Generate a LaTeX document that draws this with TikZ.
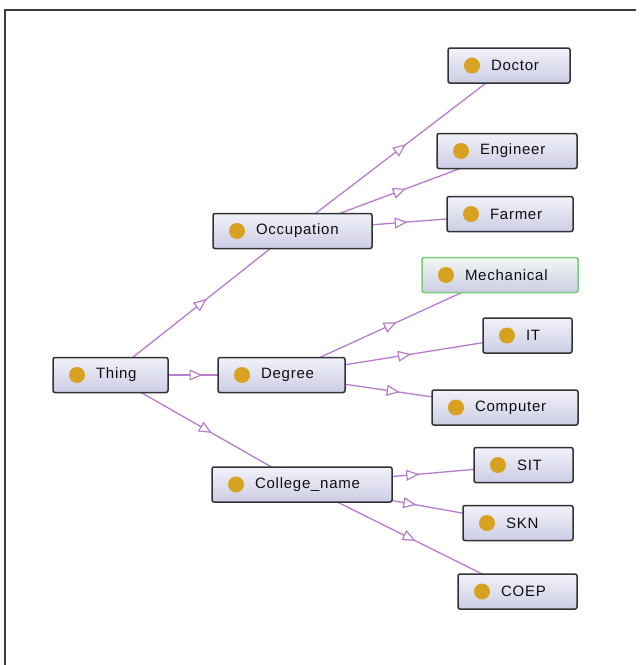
\documentclass[tikz,border=0pt]{standalone}
\usepackage{fontspec}
\newfontfamily\clsfont[LetterSpace=5]{Liberation Sans}
\usetikzlibrary{arrows.meta,decorations.markings,backgrounds}
\definecolor{boxline}{RGB}{50,50,54}
\definecolor{boxtop}{RGB}{242,242,250}
\definecolor{boxbot}{RGB}{204,205,228}
\definecolor{dotc}{RGB}{214,162,32}
\definecolor{edgec}{RGB}{184,124,204}
\definecolor{selline}{RGB}{122,204,122}
\definecolor{seltop}{RGB}{240,248,240}
\definecolor{txtc}{RGB}{15,15,20}
\definecolor{framec}{RGB}{60,60,60}
\tikzset{
  cls/.style={draw=boxline, line width=1.5pt, rounded corners=2pt,
    top color=boxtop, bottom color=boxbot, minimum height=35pt,
    inner xsep=0pt, inner ysep=0pt, align=left, text=txtc,
    font=\clsfont\fontsize{15}{18}\selectfont,
    path picture={\fill[dotc] ([xshift=24pt]path picture bounding box.west) circle (8pt);}},
  selcls/.style={cls, draw=selline, top color=seltop},
  isa/.style={draw=edgec, line width=1.3pt,
    decoration={markings, mark=at position 0.5 with {\arrow[xshift=6.5pt]{Triangle[length=13pt,width=11pt,fill=white,line width=1.2pt]}}},
    postaction={decorate}},
  frameline/.style={draw=framec, line width=1.6pt}
}
\begin{document}
\begin{tikzpicture}[x=1pt,y=-1pt]
\useasboundingbox (0,0) rectangle (640,665);
\coordinate (fa) at (5,10);
\coordinate (fb) at (636,10);
\coordinate (fc) at (5,665);
\draw[frameline] (fb) -- (fa) -- (fc);

\node[cls, text width=115pt] (thing) at (110.5,375) {\hspace*{43pt}Thing};
\node[cls, text width=127pt] (degree) at (281.5,375) {\hspace*{43pt}Degree};
\node[cls, text width=159pt] (occ) at (292.5,231) {\hspace*{43pt}Occupation};
\node[cls, text width=180pt] (coll) at (302,484.5) {\hspace*{43pt}College\_name};
\node[cls, text width=122pt] (doctor) at (509,65.5) {\hspace*{43pt}Doctor};
\node[cls, text width=140pt] (eng) at (507,151) {\hspace*{43pt}Engineer};
\node[cls, text width=126pt] (farmer) at (510,214) {\hspace*{43pt}Farmer};
\node[selcls, text width=156pt] (mech) at (500,275) {\hspace*{43pt}Mechanical};
\node[cls, text width=89pt] (it) at (527.5,335.5) {\hspace*{43pt}IT};
\node[cls, text width=146pt] (comp) at (505,407.5) {\hspace*{43pt}Computer};
\node[cls, text width=99pt] (sit) at (523.5,465) {\hspace*{43pt}SIT};
\node[cls, text width=110pt] (skn) at (518,523) {\hspace*{43pt}SKN};
\node[cls, text width=119pt] (coep) at (517.5,591.5) {\hspace*{43pt}COEP};

\begin{scope}[on background layer]
\draw[isa] (thing.center) -- (occ.center);
\draw[isa] (thing.center) -- (degree.center);
\draw[isa] (thing.center) -- (coll.center);
\draw[isa] (occ.center) -- (doctor.center);
\draw[isa] (occ.center) -- (eng.center);
\draw[isa] (occ.center) -- (farmer.center);
\draw[isa] (degree.center) -- (mech.center);
\draw[isa] (degree.center) -- (it.center);
\draw[isa] (degree.center) -- (comp.center);
\draw[isa] (coll.center) -- (sit.center);
\draw[isa] (coll.center) -- (skn.center);
\draw[isa] (coll.center) -- (coep.center);
\end{scope}
\end{tikzpicture}
\end{document}
